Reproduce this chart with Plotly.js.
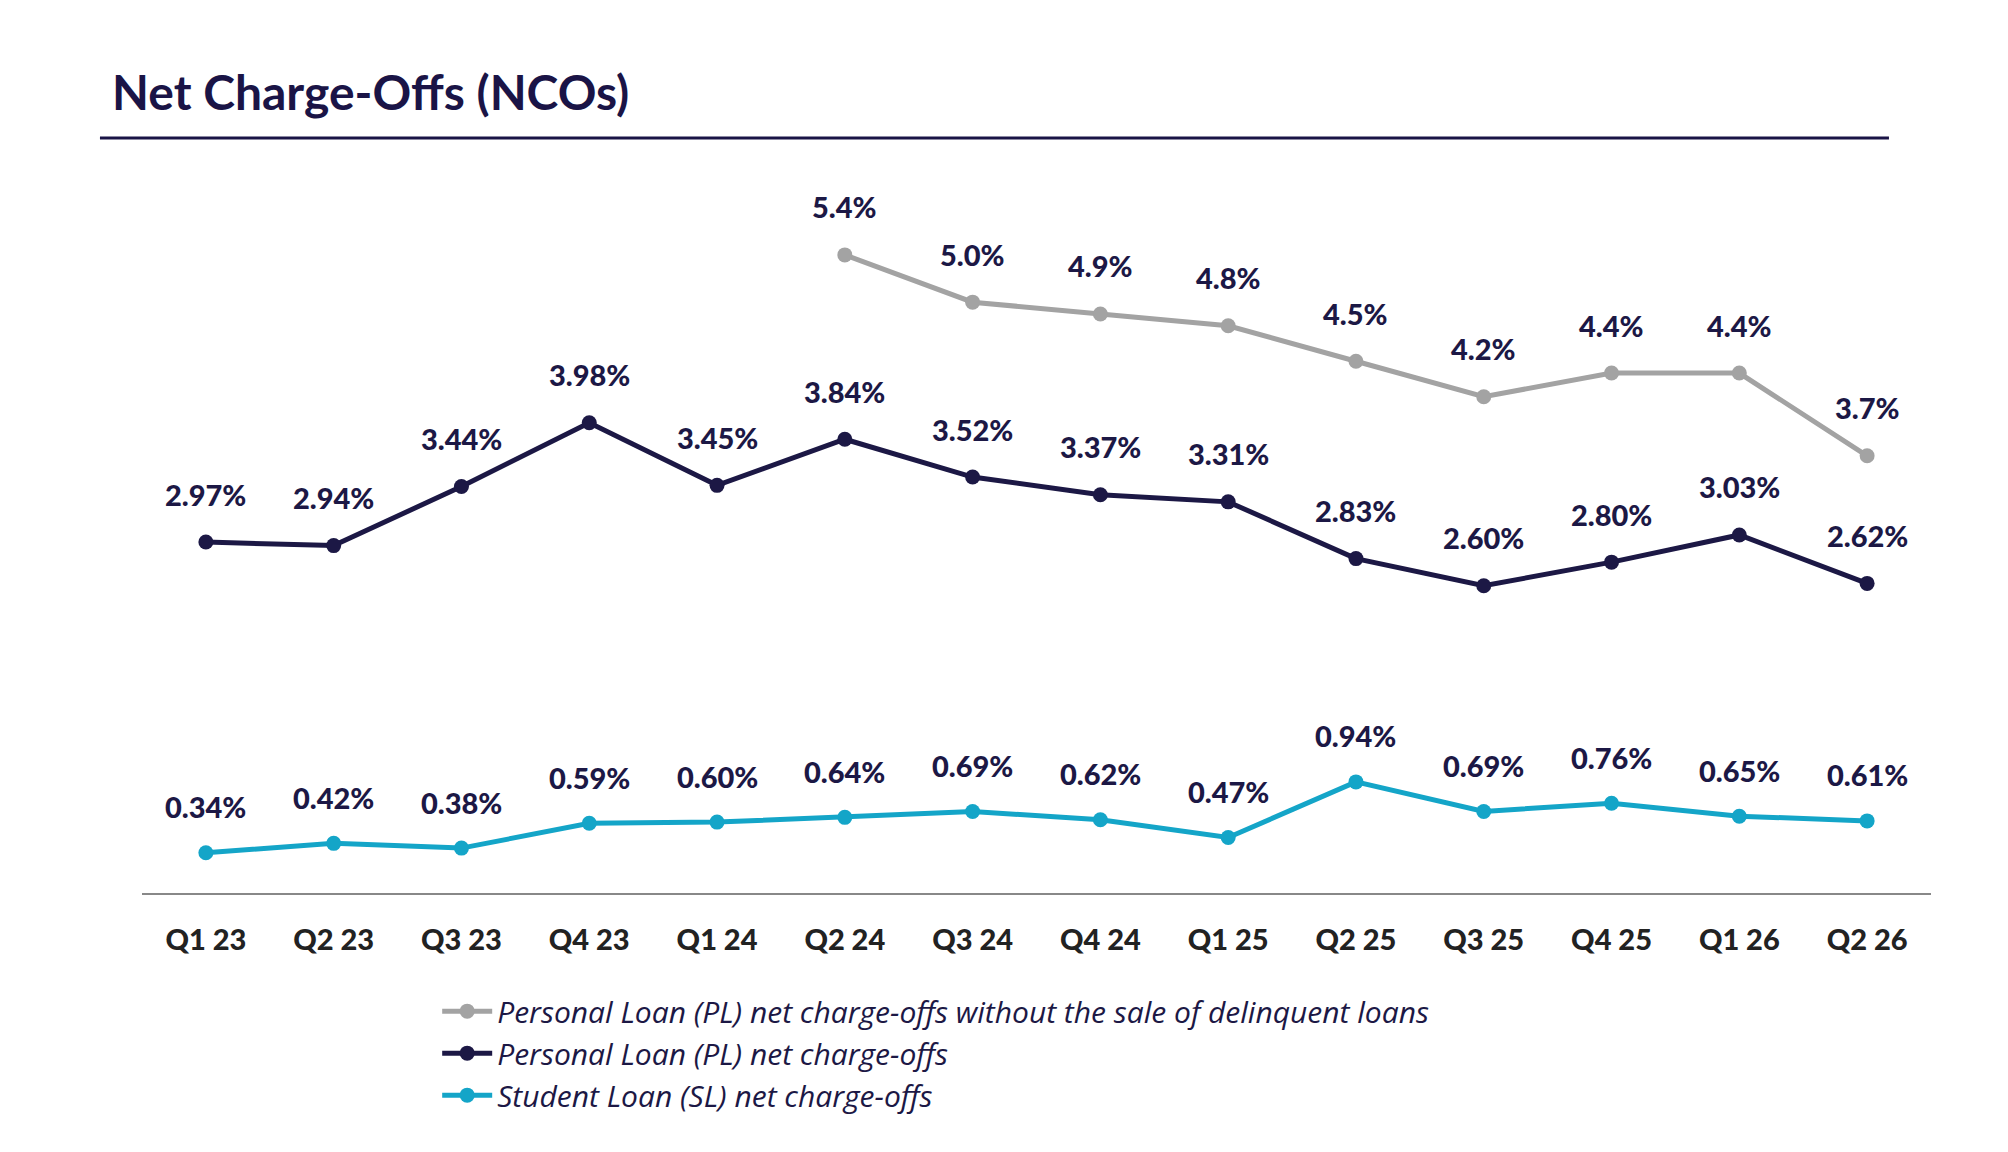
<!DOCTYPE html>
<html><head><meta charset="utf-8">
<script src="https://cdn.plot.ly/plotly-3.0.1.min.js"></script>
<style>body{margin:0;background:#fff}#c{width:2008px;height:1152px}</style>
</head><body><div id="c"></div>
<script>
const quarters = ["Q1 23","Q2 23","Q3 23","Q4 23","Q1 24","Q2 24","Q3 24","Q4 24","Q1 25","Q2 25","Q3 25","Q4 25","Q1 26","Q2 26"];
const plAdjQuarters = ["Q2 24","Q3 24","Q4 24","Q1 25","Q2 25","Q3 25","Q4 25","Q1 26","Q2 26"];
const plAdj = [5.4,5.0,4.9,4.8,4.5,4.2,4.4,4.4,3.7];
const plNco = [2.97,2.94,3.44,3.98,3.45,3.84,3.52,3.37,3.31,2.83,2.60,2.80,3.03,2.62];
const slNco = [0.34,0.42,0.38,0.59,0.60,0.64,0.69,0.62,0.47,0.94,0.69,0.76,0.65,0.61];

const navy = "#1c1845", grey = "#a3a3a3", teal = "#14a5c8";
const tr = (x,y,c,name)=>({x:x,y:y,name:name,type:"scatter",mode:"lines+markers",
  line:{color:c,width:5},marker:{color:c,size:15},cliponaxis:false});
const data = [
  tr(plAdjQuarters,plAdj,grey,"Personal Loan (PL) net charge-offs without the sale of delinquent loans"),
  tr(quarters,plNco,navy,"Personal Loan (PL) net charge-offs"),
  tr(quarters,slNco,teal,"Student Loan (SL) net charge-offs")
];
const lf = {family:"Lato, 'DejaVu Sans', sans-serif",size:29,color:navy,weight:900};
const ann = [];
plAdj.forEach((v,i)=>ann.push({x:plAdjQuarters[i],y:v,text:v.toFixed(1)+"%",showarrow:false,yshift:48,font:lf}));
plNco.forEach((v,i)=>ann.push({x:quarters[i],y:v,text:v.toFixed(2)+"%",showarrow:false,yshift:48,font:lf}));
slNco.forEach((v,i)=>ann.push({x:quarters[i],y:v,text:v.toFixed(2)+"%",showarrow:false,yshift:46,font:lf}));
ann.push({xref:"paper",yref:"paper",x:-0.018,y:1.13,xanchor:"left",yanchor:"middle",showarrow:false,
  text:"<b>Net Charge-Offs (NCOs)</b>",font:{family:"Lato, 'DejaVu Sans', sans-serif",size:48,color:"#1a1446",weight:900}});
const layout = {
  width:2008,height:1152,paper_bgcolor:"#fff",plot_bgcolor:"#fff",
  margin:{l:142,r:77,t:184,b:259},
  showlegend:true,
  legend:{x:0.165,y:-0.13,xanchor:"left",yanchor:"top",bgcolor:"rgba(0,0,0,0)",
    font:{family:"'Open Sans', 'DejaVu Sans', sans-serif",size:30,color:"#1c1845",style:"italic"},tracegroupgap:0,itemwidth:50},
  xaxis:{type:"category",categoryarray:quarters,categoryorder:"array",range:[-0.5,13.5],
    showgrid:false,zeroline:false,showline:true,linecolor:"#888",linewidth:2,ticks:"",
    ticklabelstandoff:20,tickfont:{family:"Lato, 'DejaVu Sans', sans-serif",size:29,color:"#222",weight:900}},
  yaxis:{range:[0,6],visible:false,showgrid:false,zeroline:false},
  annotations:ann,
  shapes:[{type:"line",xref:"paper",yref:"paper",x0:-0.0235,x1:0.9765,y0:1.065,y1:1.065,line:{color:"#1a1446",width:3}}]
};
Plotly.newPlot("c",data,layout,{displayModeBar:false});
</script></body></html>
